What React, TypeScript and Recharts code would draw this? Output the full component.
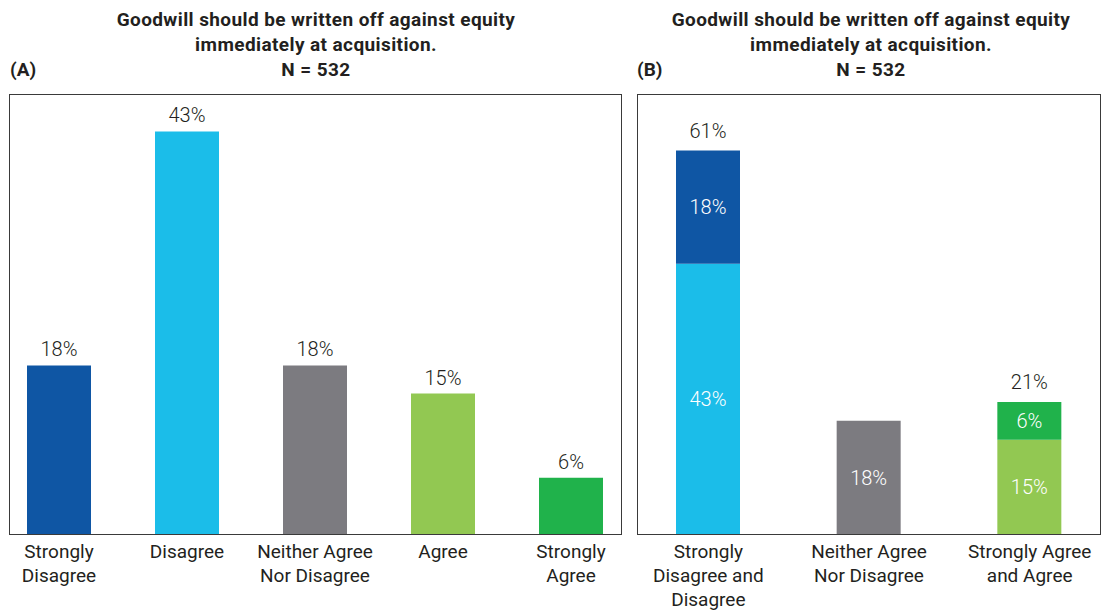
import { Bar, BarChart, Cell, LabelList, XAxis, YAxis } from "recharts";

const FONT = "Roboto, 'DejaVu Sans', sans-serif";
const TEXT = "#231f20";

const DARK_BLUE = "#0f56a4";
const LIGHT_BLUE = "#1bbde9";
const GREY = "#7c7b80";
const LIGHT_GREEN = "#92c852";
const GREEN = "#20b24b";

const titleLines = ["Goodwill should be written off against equity", "immediately at acquisition.", "N = 532"];

// panel A
const categoriesA = ["Strongly\nDisagree", "Disagree", "Neither Agree\nNor Disagree", "Agree", "Strongly\nAgree"];
const valuesA = [18, 43, 18, 15, 6];
const colorsA = [DARK_BLUE, LIGHT_BLUE, GREY, LIGHT_GREEN, GREEN];

// panel B (stacked)
const categoriesB = ["Strongly\nDisagree and\nDisagree", "Neither Agree\nNor Disagree", "Strongly Agree\nand Agree"];
const baseB = [43, 18, 15];
const topB = [18, 0, 6];
const baseColorsB = [LIGHT_BLUE, GREY, LIGHT_GREEN];
const topColorsB = [DARK_BLUE, GREY, GREEN];

const dataA = categoriesA.map((name, i) => ({ name, value: valuesA[i] }));
const dataB = categoriesB.map((name, i) => ({
  name,
  base: baseB[i],
  top: topB[i],
  totalLabel: topB[i] ? `${baseB[i] + topB[i]}%` : "",
}));

const MultiTick = ({ x, y, payload }: any) => {
  const lines = String(payload.value).split("\n");
  return (
    <text x={x} y={y} textAnchor="middle" fill={TEXT} fontSize={19} fontFamily={FONT}>
      {lines.map((l, i) => (
        <tspan key={i} x={x} dy={i === 0 ? 16 : 24}>
          {l}
        </tspan>
      ))}
    </text>
  );
};

const Title = ({ center, tag, tagX }: { center: number; tag: string; tagX: number }) => (
  <div style={{ position: "absolute", left: 0, top: 0 }}>
    {titleLines.map((t, i) => (
      <div
        key={i}
        style={{
          position: "absolute",
          left: center - 300,
          width: 600,
          top: 8 + i * 25,
          textAlign: "center",
          fontFamily: FONT,
          fontWeight: 700,
          fontSize: 19,
          letterSpacing: 0.4,
          color: TEXT,
          whiteSpace: "nowrap",
        }}
      >
        {t}
      </div>
    ))}
    <div
      style={{
        position: "absolute",
        left: tagX,
        top: 58,
        fontFamily: FONT,
        fontWeight: 700,
        fontSize: 19,
        color: TEXT,
      }}
    >
      {tag}
    </div>
  </div>
);

const Box = ({ left, top, width, height }: any) => (
  <div
    style={{
      position: "absolute",
      left,
      top,
      width,
      height,
      border: "1px solid #3a3a3a",
      boxSizing: "border-box",
      pointerEvents: "none",
    }}
  />
);

const labelStyle = { fontSize: 20, fontFamily: FONT, fontWeight: 300 };

export default function App() {
  return (
    <div style={{ position: "absolute", left: 0, top: 0, width: 1104, height: 610, background: "#fff" }}>
      <Title center={316} tag="(A)" tagX={10} />
      <Title center={871} tag="(B)" tagX={637} />

      <div style={{ position: "absolute", left: 0, top: 0 }}>
        <BarChart
          width={640}
          height={610}
          data={dataA}
          margin={{ top: 94, right: 5, left: -5, bottom: 46 }}
          barSize={64}
        >
          <XAxis
            dataKey="name"
            tick={<MultiTick />}
            tickLine={false}
            axisLine={false}
            interval={0}
            height={30}
          />
          <YAxis hide domain={[0, 47]} />
          <Bar dataKey="value" isAnimationActive={false}>
            {dataA.map((_, i) => (
              <Cell key={i} fill={colorsA[i]} />
            ))}
            <LabelList
              dataKey="value"
              position="top"
              offset={9}
              formatter={(v: any) => `${v}%`}
              style={{ ...labelStyle, fill: TEXT }}
            />
          </Bar>
        </BarChart>
      </div>
      <Box left={9} top={94} width={613} height={441} />

      <div style={{ position: "absolute", left: 0, top: 0 }}>
        <BarChart
          width={1120}
          height={610}
          data={dataB}
          margin={{ top: 94, right: 10, left: 628, bottom: 46 }}
          barSize={64}
        >
          <XAxis
            dataKey="name"
            tick={<MultiTick />}
            tickLine={false}
            axisLine={false}
            interval={0}
            height={30}
          />
          <YAxis hide domain={[0, 70]} />
          <Bar dataKey="base" stackId="s" isAnimationActive={false}>
            {dataB.map((_, i) => (
              <Cell key={i} fill={baseColorsB[i]} />
            ))}
            <LabelList
              dataKey="base"
              position="center"
              formatter={(v: any) => `${v}%`}
              style={{ ...labelStyle, fill: "#ffffff" }}
            />
          </Bar>
          <Bar dataKey="top" stackId="s" isAnimationActive={false}>
            {dataB.map((_, i) => (
              <Cell key={i} fill={topColorsB[i]} />
            ))}
            <LabelList
              dataKey="top"
              position="center"
              formatter={(v: any) => (v ? `${v}%` : "")}
              style={{ ...labelStyle, fill: "#ffffff" }}
            />
            <LabelList
              dataKey="totalLabel"
              position="top"
              offset={13}
              style={{ ...labelStyle, fill: TEXT }}
            />
          </Bar>
        </BarChart>
      </div>
      <Box left={637} top={94} width={464} height={441} />
    </div>
  );
}
